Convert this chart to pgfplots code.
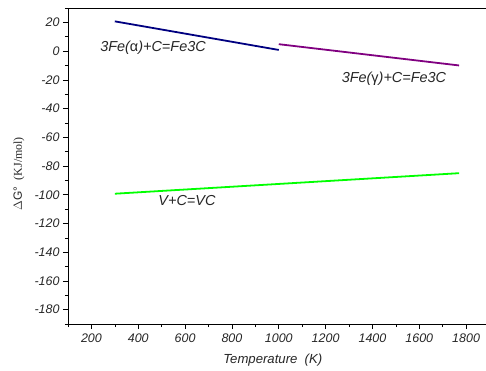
\documentclass[border=0pt]{standalone}
\usepackage{fontspec}
\setmainfont{Liberation Sans}
\newfontfamily\seriffont{Liberation Serif}
\usepackage{pgfplots}
\pgfplotsset{compat=1.18}
\definecolor{fenavy}{RGB}{0,0,128}
\definecolor{fepurple}{RGB}{128,0,128}
\definecolor{vgreen}{RGB}{0,255,0}
\begin{document}
\begin{tikzpicture}
\begin{axis}[
  at={(0,0)}, anchor=south west,
  scale only axis,
  width=418bp, height=316bp,
  xmin=100, xmax=1885, ymin=-190, ymax=30,
  axis x line=box, axis y line=left,
  axis line style={line width=0.8pt, -},
  xtick={200,400,...,1800},
  minor xtick={100,300,...,1900},
  ytick={-180,-160,...,20},
  minor ytick={-190,-170,...,30},
  xtick pos=bottom, ytick pos=left,
  tick align=outside,
  major tick length=5bp, minor tick length=3bp,
  every tick/.style={black, line width=0.6pt},
  /pgf/number format/assume math mode=true,
  /pgf/number format/set thousands separator={},
  ticklabel style={font=\fontsize{12.5}{14}\selectfont\itshape, color=black!85},
  xticklabel style={yshift=-1bp},
  xlabel={\itshape Temperature\ \ (K)},
  xlabel style={font=\fontsize{13.2}{15}\selectfont, at={(axis description cs:0.49,0)}, anchor=center, yshift=-36bp, color=black!85},
  ylabel={$\Delta$G\textdegree\ \ {\seriffont (KJ/mol)}},
  ylabel style={font=\fontsize{12}{14}\selectfont, at={(axis description cs:-0.117,0.475)}, anchor=center, color=black!85},
  clip=false,
]
\addplot[color=fenavy, line width=1.8pt] coordinates {(300,20.7) (1000,0.8)};
\addplot[color=fepurple, line width=1.8pt] coordinates {(1000,4.8) (1770,-10.0)};
\addplot[color=vgreen, line width=1.8pt] coordinates {(300,-99.3) (1770,-85.0)};
\node[font=\fontsize{14.5}{16}\selectfont\itshape, color=black!85] at (axis cs:463,2) {3Fe({\upshape α})+C=Fe3C};
\node[font=\fontsize{14.5}{16}\selectfont\itshape, color=black!85] at (axis cs:1492,-19.6) {3Fe({\upshape γ})+C=Fe3C};
\node[font=\fontsize{14.5}{16}\selectfont\itshape, color=black!85] at (axis cs:608,-104) {V+C=VC};
\end{axis}
\pgfresetboundingbox
\useasboundingbox (-68bp,-47bp) rectangle (418bp,324bp);
\end{tikzpicture}
\end{document}
